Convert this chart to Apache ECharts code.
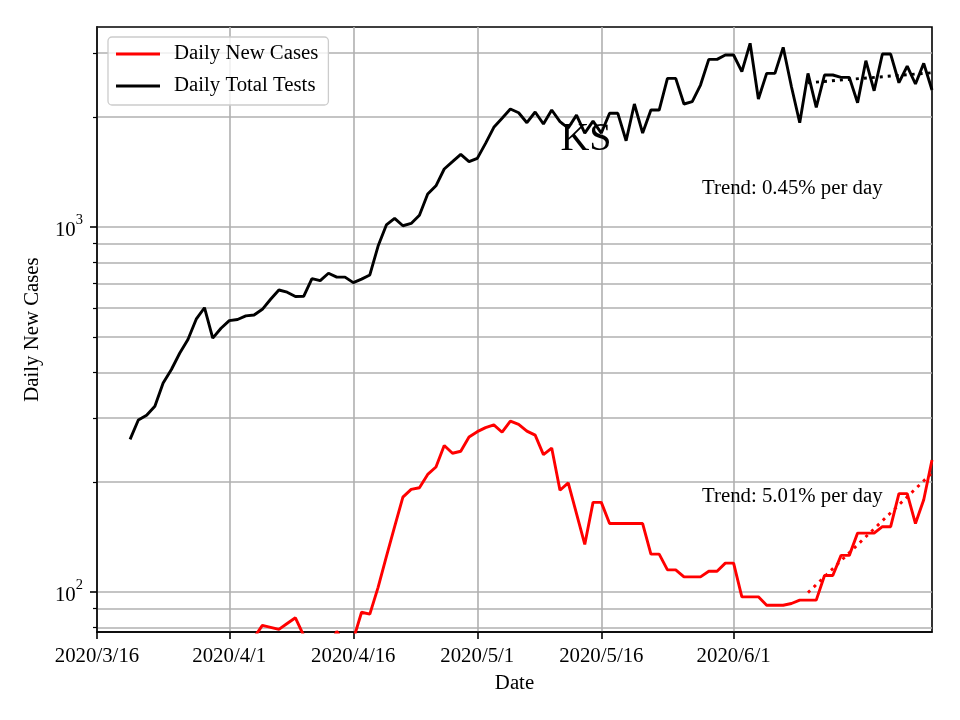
<!DOCTYPE html>
<html><head><meta charset="utf-8">
<script src="https://cdn.jsdelivr.net/npm/echarts@6/dist/echarts.min.js"></script>
<style>html,body{margin:0;padding:0;background:#fff}#c{width:960px;height:720px}</style>
</head><body><div id="c"></div>
<script>
// x categories: one per day, 2020/3/16 .. 2020/6/25
const categories = [];
for (let i = 0; i < 102; i++) {
  const d = new Date(Date.UTC(2020, 2, 16 + i));
  categories.push(d.getUTCFullYear() + '/' + (d.getUTCMonth() + 1) + '/' + d.getUTCDate());
}
const tickLabels = ['2020/3/16', '2020/4/1', '2020/4/16', '2020/5/1', '2020/5/16', '2020/6/1'];
const yMajorTicks = [100, 1000];
const yMinorTicks = [80, 90, 200, 300, 400, 500, 600, 700, 800, 900, 2000, 3000];

const dailyNewCases = [null, null, null, null,
  8, 10, 13, 16, 20, 24, 29, 34, 39, 44, 50, 55, 60, 65, 70, 75,
  81, 80, 79, 82, 85, 76, 68, 72, 70, 78, 72, 74, 88, 87, 103, 125, 151, 182, 191, 193,
  210, 220, 252, 240, 243, 266, 275, 282, 287, 274, 294, 288, 276, 269, 238, 248, 190, 199, 164, 135,
  176, 176, 154, 154, 154, 154, 154, 127, 127, 115, 115, 110, 110, 110, 114, 114, 120, 120, 97, 97,
  97, 92, 92, 92, 93, 95, 95, 95, 111, 111, 126, 126, 145, 145, 145, 151, 151, 186, 186, 154,
  179, 230];
const dailyTotalTests = [null, null, null, null,
  262, 296, 305, 323, 374, 407, 451, 492, 559, 601,
  496, 528, 554, 558, 571, 574, 595, 634, 672, 663,
  645, 646, 722, 713, 747, 729, 729, 704, 720, 739,
  887, 1013, 1056, 1008, 1023, 1077, 1231, 1297, 1442, 1510,
  1582, 1510, 1542, 1695, 1876, 1986, 2105, 2056, 1931, 2066,
  1915, 2092, 1944, 1867, 2026, 1809, 1951, 1809, 2049, 2049,
  1723, 2173, 1809, 2092, 2092, 2555, 2555, 2173, 2205, 2449,
  2880, 2880, 2960, 2960, 2665, 3187, 2242, 2636, 2636, 3107,
  2423, 1931, 2636, 2128, 2609, 2609, 2570, 2570, 2190, 2855,
  2362, 2978, 2978, 2485, 2761, 2465, 2809, 2373];
const casesTrend = [['2020/6/10', 99.6], ['2020/6/25', 212]];
const testsTrend = [['2020/6/10', 2485], ['2020/6/25', 2647]];
const titleText = 'KS';
const casesTrendText = 'Trend: 5.01% per day';
const testsTrendText = 'Trend: 0.45% per day';

const FONT = '"Liberation Serif", "Times New Roman", serif';
const FS = 20.8;
const Y_MIN = 77.7, Y_MAX = 3532;
const isTickIdx = (idx) => tickLabels.indexOf(categories[idx]) >= 0;

const chart = echarts.init(document.getElementById('c'), null, {renderer: 'canvas'});
chart.setOption({
  backgroundColor: '#fff',
  animation: false,
  grid: {left: 97, right: 28, top: 27, bottom: 88, show: true, borderColor: '#000', borderWidth: 1.6, backgroundColor: 'transparent'},
  legend: {
    data: ['Daily New Cases', 'Daily Total Tests'],
    orient: 'vertical', left: 108, top: 37,
    icon: 'rect', itemWidth: 44, itemHeight: 3, itemGap: 8,
    padding: [5, 10, 7, 8],
    backgroundColor: 'rgba(255,255,255,0.8)', borderColor: '#cccccc', borderWidth: 1.3, borderRadius: 4,
    textStyle: {fontFamily: FONT, fontSize: FS, color: '#000', lineHeight: 24, padding: [0, 0, 0, 9]}
  },
  xAxis: {
    type: 'category', data: categories, boundaryGap: false,
    axisLine: {show: true, lineStyle: {color: '#000', width: 1.6}},
    axisTick: {show: true, interval: isTickIdx, length: 7, lineStyle: {color: '#000', width: 1.6}},
    axisLabel: {interval: isTickIdx, margin: 14, fontFamily: FONT, fontSize: FS, color: '#000'},
    splitLine: {show: true, interval: isTickIdx, lineStyle: {color: '#b0b0b0', width: 1.6}}
  },
  yAxis: [{
    type: 'log', logBase: 10, min: Y_MIN, max: Y_MAX, position: 'left',
    axisLine: {show: true, lineStyle: {color: '#000', width: 1.6}},
    axisTick: {show: true, customValues: yMajorTicks, length: 7, lineStyle: {color: '#000', width: 1.6}},
    axisLabel: {
      customValues: yMajorTicks, margin: 14,
      formatter: v => '{b|10}{s|' + Math.round(Math.log10(v)) + '}',
      rich: {
        b: {fontFamily: FONT, fontSize: FS, color: '#000', verticalAlign: 'bottom', padding: [7, 0, 0, 0]},
        s: {fontFamily: FONT, fontSize: 14.5, color: '#000', verticalAlign: 'top'}
      }
    },
    splitLine: {show: true, lineStyle: {color: '#b0b0b0', width: 1.6}}
  }, {
    type: 'log', logBase: 10, min: Y_MIN, max: Y_MAX, position: 'left',
    axisLine: {show: false},
    axisTick: {show: true, customValues: yMinorTicks, length: 4, lineStyle: {color: '#000', width: 1.2}},
    axisLabel: {show: false, customValues: yMinorTicks},
    splitLine: {show: true, lineStyle: {color: '#b0b0b0', width: 1.6}}
  }],
  series: [{
    name: 'Daily New Cases', type: 'line', data: dailyNewCases, yAxisIndex: 0,
    symbol: 'none', clip: true, color: '#ff0000', lineStyle: {color: '#ff0000', width: 2.9}, z: 3
  }, {
    name: 'Daily Total Tests', type: 'line', data: dailyTotalTests, yAxisIndex: 0,
    symbol: 'none', clip: true, color: '#000000', lineStyle: {color: '#000000', width: 2.9}, z: 3
  }, {
    name: 'cases trend', type: 'line', data: casesTrend, yAxisIndex: 0,
    symbol: 'none', clip: true, lineStyle: {color: '#ff0000', width: 2.9, type: [3, 5], cap: 'butt'}, z: 2
  }, {
    name: 'tests trend', type: 'line', data: testsTrend, yAxisIndex: 0,
    symbol: 'none', clip: true, lineStyle: {color: '#000000', width: 2.9, type: [3, 5], cap: 'butt'}, z: 2
  }],
  graphic: [
    {type: 'text', x: 586, y: 139, style: {text: titleText, font: '40px ' + FONT, fill: '#000', align: 'center', verticalAlign: 'middle'}, z: 10},
    {type: 'text', x: 702, y: 189, style: {text: testsTrendText, font: FS + 'px ' + FONT, fill: '#000', align: 'left', verticalAlign: 'middle'}, z: 10},
    {type: 'text', x: 702, y: 497, style: {text: casesTrendText, font: FS + 'px ' + FONT, fill: '#000', align: 'left', verticalAlign: 'middle'}, z: 10},
    {type: 'text', x: 33, y: 329.5, rotation: Math.PI / 2, style: {text: 'Daily New Cases', font: FS + 'px ' + FONT, fill: '#000', align: 'center', verticalAlign: 'middle'}, z: 10},
    {type: 'text', x: 514.5, y: 684, style: {text: 'Date', font: FS + 'px ' + FONT, fill: '#000', align: 'center', verticalAlign: 'middle'}, z: 10}
  ]
});
</script>
</body></html>
